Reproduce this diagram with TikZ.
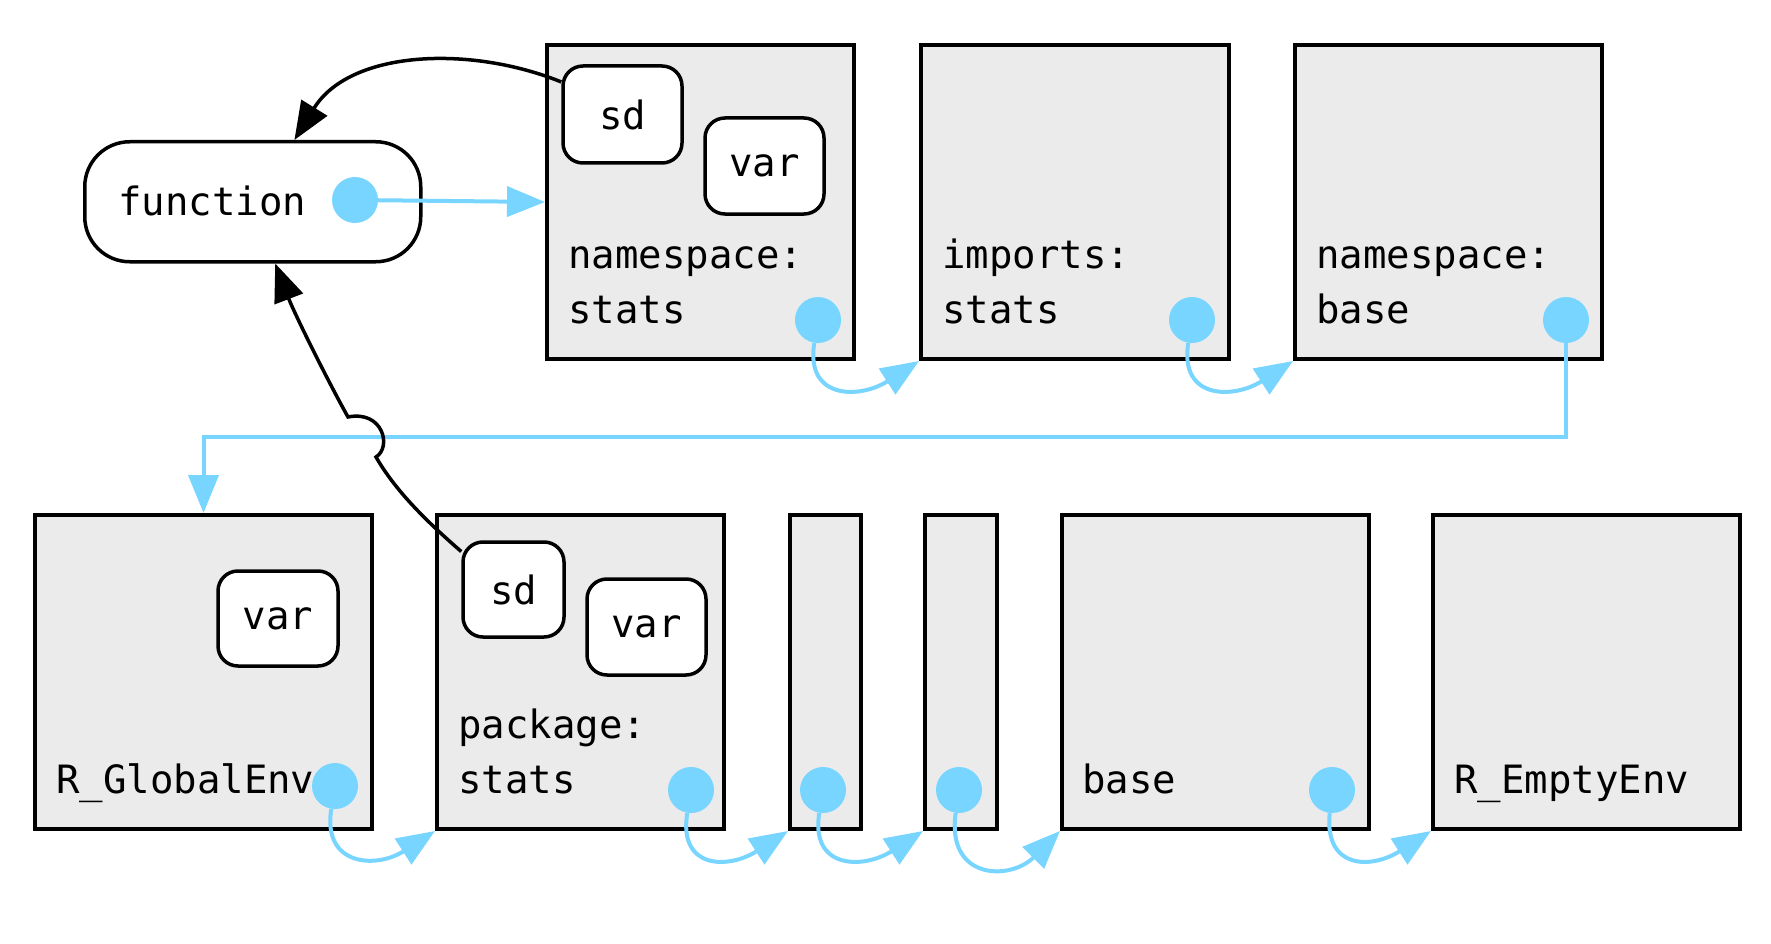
\documentclass[tikz,border=0pt]{standalone}
\usepackage{fontspec}
\setmonofont{DejaVu Sans Mono}
\usetikzlibrary{arrows.meta}
\newcommand{\envfont}{\ttfamily\fontsize{39}{55}\selectfont}
\definecolor{envgray}{HTML}{EBEBEB}
\definecolor{linkblue}{HTML}{77D5FF}
\tikzstyle{env} = [draw, fill=envgray, line width=4pt, anchor=north west, inner sep=0pt]
\tikzstyle{binding} = [draw, fill=white, rounded corners=20pt, line width=3.5pt, inner sep=0pt, font=\envfont]
\tikzstyle{fun} = [draw, fill=white, rounded corners=45pt, line width=3.5pt, anchor=north west, minimum width=336pt, minimum height=120pt]
\tikzstyle{dot} = [circle, fill=linkblue, minimum size=46pt, inner sep=0pt]
\tikzstyle{lbl} = [anchor=base west, inner sep=0pt, font=\envfont]
\tikzstyle{link} = [draw=linkblue, line width=4pt, -{Triangle[length=38pt,width=30pt]}]
\tikzstyle{ref} = [draw=black, line width=3.5pt, -{Triangle[length=38pt,width=30pt]}]

\begin{document}
\begin{tikzpicture}[x=1pt,y=-1pt]
    \useasboundingbox (0,0) rectangle (1771,944);
    % top row
    \node [fun] (fun) at (83,140) {};
    \node [lbl] (funL) at (118,215) {function};
    \node [env, minimum width=307pt, minimum height=314pt] (nsstats) at (545,43) {};
    \node [env, minimum width=308pt, minimum height=314pt] (impstats) at (919,43) {};
    \node [env, minimum width=307pt, minimum height=314pt] (nsbase) at (1293,43) {};
    \node [binding, minimum width=119pt, minimum height=97pt] (sdtop) at (622.5,114.5) {sd};
    \node [binding, minimum width=119pt, minimum height=96pt] (vartop) at (764.5,166) {var};
    \node [lbl] (nsstatsL) at (568,323) {\begin{tabular}[b]{@{}l@{}}namespace:\\stats\end{tabular}};
    \node [lbl] (impstatsL) at (942,323) {\begin{tabular}[b]{@{}l@{}}imports:\\stats\end{tabular}};
    \node [lbl] (nsbaseL) at (1316,323) {\begin{tabular}[b]{@{}l@{}}namespace:\\base\end{tabular}};

    % bottom row
    \node [env, minimum width=337pt, minimum height=314pt] (genv) at (33,513) {};
    \node [env, minimum width=287pt, minimum height=314pt] (pkgstats) at (435,513) {};
    \node [env, minimum width=71pt, minimum height=314pt] (pkgA) at (788,513) {};
    \node [env, minimum width=72pt, minimum height=314pt] (pkgB) at (923,513) {};
    \node [env, minimum width=307pt, minimum height=314pt] (base) at (1060,513) {};
    \node [env, minimum width=307pt, minimum height=314pt] (empty) at (1431,513) {};
    \node [binding, minimum width=120pt, minimum height=95pt] (vargenv) at (278,618.5) {var};
    \node [binding, minimum width=101pt, minimum height=95pt] (sdpkg) at (513.5,589.5) {sd};
    \node [binding, minimum width=119pt, minimum height=96pt] (varpkg) at (646.5,627) {var};
    \node [lbl] (genvL) at (56,793) {R\_GlobalEnv};
    \node [lbl] (pkgstatsL) at (458,793) {\begin{tabular}[b]{@{}l@{}}package:\\stats\end{tabular}};
    \node [lbl] (baseL) at (1082,793) {base};
    \node [lbl] (emptyL) at (1454,793) {R\_EmptyEnv};

    % parent links
    \coordinate (bend) at (1566,437);
    \draw [link] (1566,320) -- (bend) -| (genv.north);
    \node [dot] (fdot) at (355,200) {};
    \node [dot] (nsdot) at (818,320) {};
    \node [dot] (impdot) at (1192,320) {};
    \node [dot] (nbdot) at (1566,320) {};
    \node [dot] (gdot) at (335,786) {};
    \node [dot] (psdot) at (691,790) {};
    \node [dot] (adot) at (823,790) {};
    \node [dot] (bdot) at (959,790) {};
    \node [dot] (basedot) at (1332,790) {};

    \draw [link] (fdot) -- (nsstats.west);
    \draw [link] (nsdot) .. controls +(-13,80) and +(-59,38) .. (impstats.south west);
    \draw [link] (impdot) .. controls +(-13,80) and +(-59,38) .. (nsbase.south west);
    \draw [link] (gdot) .. controls +(-13,80) and +(-59,38) .. (pkgstats.south west);
    \draw [link] (psdot) .. controls +(-13,80) and +(-59,38) .. (pkgA.south west);
    \draw [link] (adot) .. controls +(-13,80) and +(-59,38) .. (pkgB.south west);
    \draw [link] (bdot) .. controls +(-13,90) and +(-50,50) .. (base.south west);
    \draw [link] (basedot) .. controls +(-8,80) and +(-59,38) .. (empty.south west);

    % bindings to the function
    \draw [ref] (sdtop.152) .. controls (470,45) and (350,50) .. (fun.56);
    \draw [ref] (sdpkg.144) .. controls (425,520) and (395,490) .. (376,457)
        .. controls (392,447) and (383,410) .. (348,417)
        .. controls (330,385) and (295,315) .. (fun.290);
\end{tikzpicture}
\end{document}
